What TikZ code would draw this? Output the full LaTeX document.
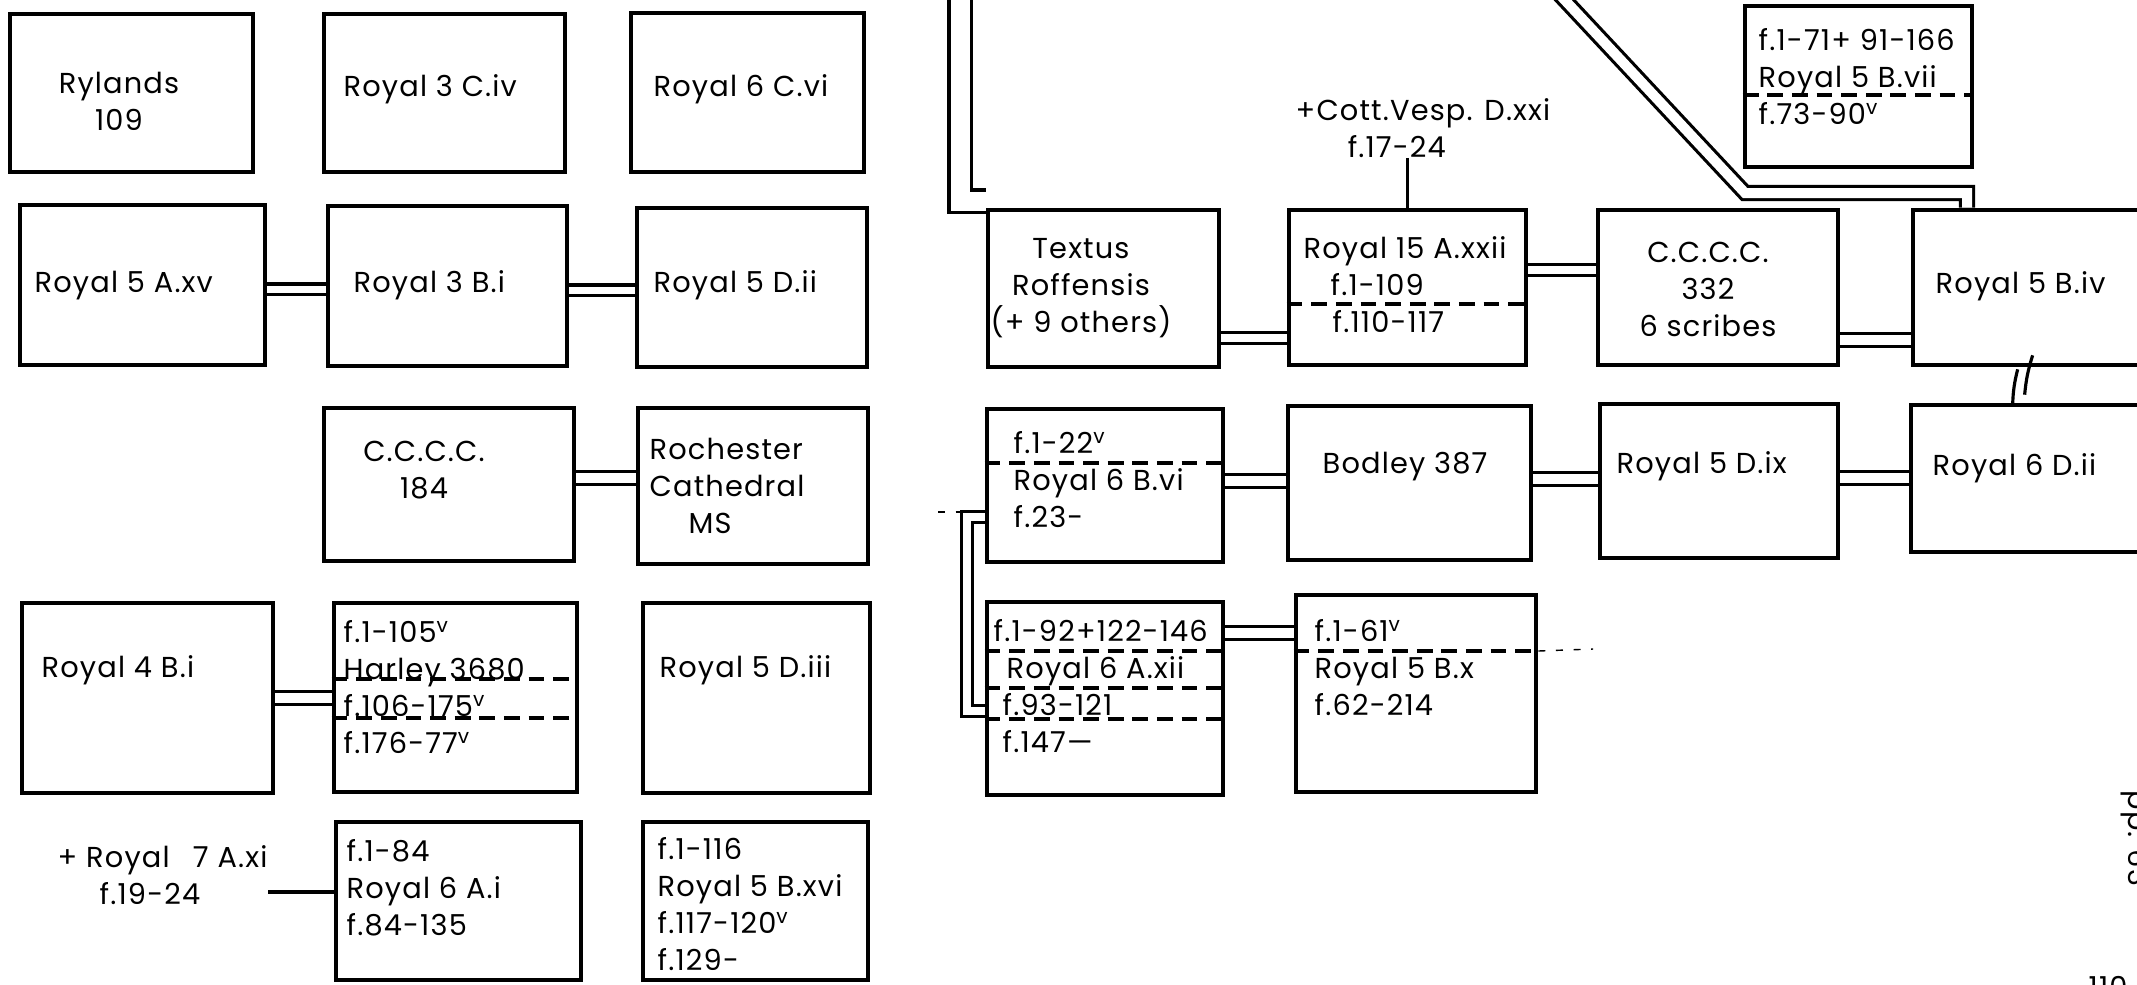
\documentclass[tikz,border=0pt]{standalone}
\usepackage{fontspec}
\setmainfont{Poppins}[LetterSpace=4.0]
\usetikzlibrary{positioning,calc,backgrounds}
\tikzset{
    codice/.style={
        rectangle,
        draw,
        line width=1.3pt,
        inner sep=0pt
    },
    rotulo/.style={
        inner sep=0pt,
        align=left,
        anchor=base west,
        font=\fontsize{8.2}{10.5}\selectfont
    },
    ligacao/.style={draw, line width=0.9pt, double=white, double distance=0.07cm},
    larga/.style={ligacao, double distance=0.1cm},
    traco/.style={line width=0.9pt},
    divisao/.style={line width=1.1pt, dash pattern=on 4.5pt off 2.5pt},
    fio/.style={line width=0.4pt, dash pattern=on 2pt off 3pt}
}
\begin{document}
\begin{tikzpicture}[x=0.01cm, y=-0.01cm]
    \useasboundingbox (0,0) rectangle (2137,984);
    % bloco da esquerda
    \node[codice, minimum width=2.43cm, minimum height=1.58cm] (rylands) at (131.5,93) {};
    \node[rotulo, align=center, anchor=base] (rylands-t) at (119,130) {Rylands\\109};
    \node[codice, minimum width=2.41cm, minimum height=1.58cm] (r3civ) at (444.5,93) {};
    \node[rotulo] (r3civ-t) at (343,96) {Royal 3 C.iv};
    \node[codice, minimum width=2.33cm, minimum height=1.59cm] (r6cvi) at (747.5,92.5) {};
    \node[rotulo] (r6cvi-t) at (653,96) {Royal 6 C.vi};

    \node[codice, minimum width=2.45cm, minimum height=1.60cm] (r5axv) at (142.5,285) {};
    \node[rotulo] (r5axv-t) at (34,292) {Royal 5 A.xv};
    \node[codice, minimum width=2.39cm, minimum height=1.60cm] (r3bi) at (447.5,286) {};
    \node[rotulo] (r3bi-t) at (353,292) {Royal 3 B.i};
    \node[codice, minimum width=2.30cm, minimum height=1.59cm] (r5dii) at (752,287.5) {};
    \node[rotulo] (r5dii-t) at (653,292) {Royal 5 D.ii};

    \node[codice, minimum width=2.50cm, minimum height=1.53cm] (ccc184) at (449,484.5) {};
    \node[rotulo, align=center, anchor=base] (ccc184-t) at (424,498) {C.C.C.C.\\184};
    \node[codice, minimum width=2.30cm, minimum height=1.56cm] (roch) at (753,486) {};
    \node[rotulo] (roch-t) at (649,533) {Rochester\\Cathedral\\\hspace*{0.39cm}MS};

    \node[codice, minimum width=2.51cm, minimum height=1.90cm] (r4bi) at (147.5,698) {};
    \node[rotulo] (r4bi-t) at (41,677) {Royal 4 B.i};
    \node[codice, minimum width=2.43cm, minimum height=1.89cm] (harley) at (455.5,697.5) {};
    \node[rotulo] (harley-t) at (343,753)
        {f.1-105\textsuperscript{v}\\Harley 3680\\f.106-175\textsuperscript{v}\\f.176-77\textsuperscript{v}};
    \node[codice, minimum width=2.27cm, minimum height=1.90cm] (r5diii) at (756.5,698) {};
    \node[rotulo] (r5diii-t) at (659,677) {Royal 5 D.iii};

    \node[rotulo] (r7axi) at (57,904) {+ Royal\hspace{0.5em} 7 A.xi\\\hspace*{0.42cm}f.19-24};
    \node[codice, minimum width=2.45cm, minimum height=1.58cm] (r6ai) at (458.5,901) {};
    \node[rotulo] (r6ai-t) at (346,935) {f.1-84\\Royal 6 A.i\\f.84-135};
    \node[codice, minimum width=2.25cm, minimum height=1.58cm] (r5bxvi) at (755.5,901) {};
    \node[rotulo] (r5bxvi-t) at (657,970)
        {f.1-116\\Royal 5 B.xvi\\f.117-120\textsuperscript{v}\\f.129-};

    % bloco da direita
    \node[codice, minimum width=2.31cm, minimum height=1.57cm] (textus) at (1103.5,288.5) {};
    \node[rotulo, align=center, anchor=base] (textus-t) at (1081,332) {Textus\\Roffensis\\(+ 9 others)};
    \node[codice, minimum width=2.37cm, minimum height=1.55cm] (r15) at (1407.5,287.5) {};
    \node[rotulo] (r15-t) at (1303,332)
        {Royal 15 A.xxii\\\hspace*{0.27cm}f.1-109\\\hspace*{0.29cm}f.110-117};
    \node[rotulo] (cott) at (1295,157) {+Cott.Vesp. D.xxi\\\hspace*{0.52cm}f.17-24};
    \node[codice, minimum width=2.40cm, minimum height=1.55cm] (ccc332) at (1718,287.5) {};
    \node[rotulo, align=center, anchor=base] (ccc332-t) at (1708,336) {C.C.C.C.\\332\\6 scribes};
    \node[codice, minimum width=2.87cm, minimum height=1.55cm] (r5biv) at (2056.5,287.5) {};
    \node[rotulo] (r5biv-t) at (1935,293) {Royal 5 B.iv};
    \node[codice, minimum width=2.27cm, minimum height=1.61cm] (r5bvii) at (1858.5,86.5) {};
    \node[rotulo] (r5bvii-t) at (1758,124) {f.1-71+ 91-166\\Royal 5 B.vii\\f.73-90\textsuperscript{v}};

    \node[codice, minimum width=2.36cm, minimum height=1.53cm] (r6bvi) at (1105,485.5) {};
    \node[rotulo] (r6bvi-t) at (1013,527) {f.1-22\textsuperscript{v}\\Royal 6 B.vi\\f.23-};
    \node[codice, minimum width=2.43cm, minimum height=1.54cm] (bodley) at (1409.5,483) {};
    \node[rotulo] (bodley-t) at (1322,473) {Bodley 387};
    \node[codice, minimum width=2.38cm, minimum height=1.54cm] (r5dix) at (1719,481) {};
    \node[rotulo] (r5dix-t) at (1616,473) {Royal 5 D.ix};
    \node[codice, minimum width=2.89cm, minimum height=1.47cm] (r6dii) at (2055.5,478.5) {};
    \node[rotulo] (r6dii-t) at (1932,475) {Royal 6 D.ii};

    \node[codice, minimum width=2.36cm, minimum height=1.93cm] (r6axii) at (1105,698.5) {};
    \node[rotulo] (r6axii-t) at (993,752)
        {f.1-92+122-146\\\hspace*{0.13cm}Royal 6 A.xii\\\hspace*{0.09cm}f.93-121\\\hspace*{0.09cm}f.147---};
    \node[codice, minimum width=2.40cm, minimum height=1.97cm] (r5bx) at (1416,693.5) {};
    \node[rotulo] (r5bx-t) at (1314,715) {f.1-61\textsuperscript{v}\\Royal 5 B.x\\f.62-214};

    % margem da pagina
    \node[rotulo, rotate=-90, anchor=north west] (pagina) at (2150,790) {pp. 63};
    \node[rotulo, anchor=north west] (numero) at (2088,976) {110};

    % divisoes tracejadas
    \draw[divisao] (harley.west |- 0,679) -- (harley.east |- 0,679);
    \draw[divisao] (harley.west |- 0,718) -- (harley.east |- 0,718);
    \draw[divisao] (r15.west |- 0,304) -- (r15.east |- 0,304);
    \draw[divisao] (r5bvii.west |- 0,95) -- (r5bvii.east |- 0,95);
    \draw[divisao] (r6bvi.west |- 0,463) -- (r6bvi.east |- 0,463);
    \draw[divisao] (r6axii.west |- 0,651) -- (r6axii.east |- 0,651);
    \draw[divisao] (r6axii.west |- 0,688) -- (r6axii.east |- 0,688);
    \draw[divisao] (r6axii.west |- 0,719) -- (r6axii.east |- 0,719);
    \draw[divisao] (r5bx.west |- 0,651) -- (r5bx.east |- 0,651);
    \coordinate (pontas) at (1593,649);
    \draw[fio] (r5bx.east |- 0,651) -- (pontas);

    % ligacoes
    \coordinate (topo) at (960,-20);
    \coordinate (diag) at (1546,-20);
    \coordinate (solto) at (938,512);
    \begin{scope}[on background layer]
        \draw[ligacao] (r5axv.east |- 0,289) -- (r3bi.west |- 0,289);
        \draw[ligacao] (r3bi.east |- 0,290) -- (r5dii.west |- 0,290);
        \draw[larga] (ccc184.east |- 0,478) -- (roch.west |- 0,478);
        \draw[larga] (r4bi.east |- 0,698) -- (harley.west |- 0,698);
        \draw[traco] (r7axi.east |- 0,892) -- (r6ai.west |- 0,892);
        \draw[ligacao, double distance=0.19cm] (topo) |- (textus.west |- 0,201);
        \draw[ligacao, double distance=0.08cm] (textus.east |- 0,338) -- (r15.west |- 0,338);
        \draw[traco] (cott.south -| r15.north) -- (r15.north);
        \draw[ligacao, double distance=0.08cm] (r15.east |- 0,270) -- (ccc332.west |- 0,270);
        \draw[larga] (ccc332.east |- 0,340) -- (r5biv.west |- 0,340);
        \draw[ligacao, double distance=0.1cm] (diag) -- (1745,193) -- (1967,193) -- (r5biv.north -| 1967,0);
        \draw[larga] (r6bvi.east |- 0,481) -- (bodley.west |- 0,481);
        \draw[larga] (bodley.east |- 0,479) -- (r5dix.west |- 0,479);
        \draw[larga] (r5dix.east |- 0,478) -- (r6dii.west |- 0,478);
        \draw[ligacao, double distance=0.085cm] (r6bvi.west |- 0,517) -- (967,517) |- (r6axii.west |- 0,711);
        \draw[fio] (solto) -- (961,512);
        \draw[larga] (r6axii.east |- 0,633) -- (r5bx.west |- 0,633);
    \end{scope}
    \draw[traco] ($(r6dii.north west)+(104,2)$) to[bend left=6] ($(r5biv.south west)+(107,2)$);
    \draw[traco] ($(r6dii.north west)+(116,-8)$) to[bend left=6] ($(r5biv.south west)+(122,-12)$);
\end{tikzpicture}
\end{document}
